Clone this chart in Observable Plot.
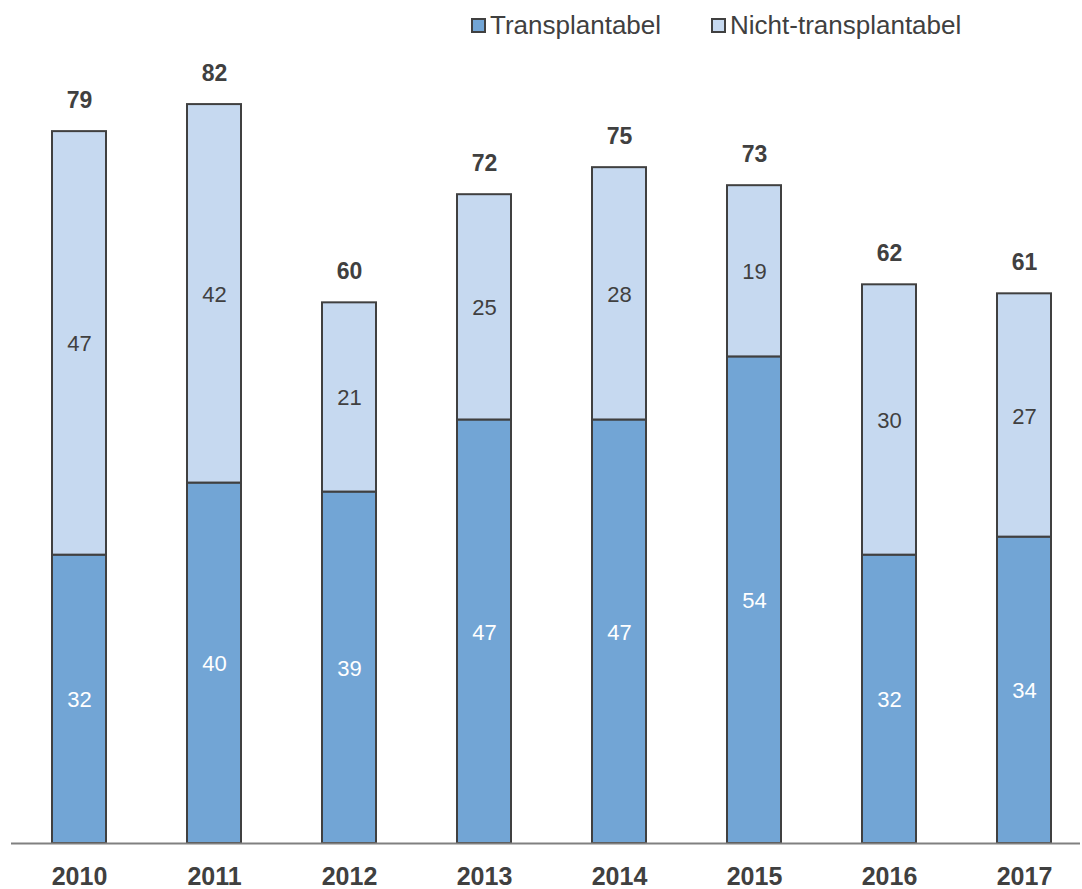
<!DOCTYPE html>
<html>
<head>
<meta charset="utf-8">
<script src="https://cdn.jsdelivr.net/npm/d3@7"></script>
<script src="https://cdn.jsdelivr.net/npm/@observablehq/plot@0.6"></script>
<style>
  body { margin: 0; background: #fff; font-family: "Liberation Sans", Arial, sans-serif; }
  #wrap { position: relative; width: 1082px; height: 889px; }
  #legend { position: absolute; top: 10px; left: 471px; display: flex; align-items: center; font-size: 26px; line-height: 30px; color: #404040; }
  .item { display: flex; align-items: center; }
  .sw { width: 11px; height: 11px; border: 2px solid #404040; margin-right: 4px; }
</style>
</head>
<body>
<div id="wrap">
  <div id="legend"></div>
  <div id="chart"></div>
</div>
<script>
const years = ["2010","2011","2012","2013","2014","2015","2016","2017"];
const transplantabel = [32,40,39,47,47,54,32,34];
const nichtTransplantabel = [47,42,21,25,28,19,30,27];
const seriesNames = ["Transplantabel","Nicht-transplantabel"];
const seriesColors = ["#72A5D5","#C6D9F0"];
const labelColors = ["#ffffff","#404040"];

const data = [];
years.forEach((y, i) => {
  data.push({year: y, series: seriesNames[0], value: transplantabel[i]});
  data.push({year: y, series: seriesNames[1], value: nichtTransplantabel[i]});
});
const totals = years.map((y, i) => ({year: y, total: transplantabel[i] + nichtTransplantabel[i]}));

// legend
const legend = document.getElementById("legend");
seriesNames.forEach((s, i) => {
  const it = document.createElement("div");
  it.className = "item";
  it.style.marginRight = i === 0 ? "50px" : "0";
  const sw = document.createElement("div");
  sw.className = "sw";
  sw.style.background = seriesColors[i];
  const t = document.createElement("span");
  t.textContent = s;
  it.appendChild(sw); it.appendChild(t);
  legend.appendChild(it);
});

const chart = Plot.plot({
  width: 1082,
  height: 889,
  marginTop: 32,
  marginBottom: 46,
  marginLeft: 11,
  marginRight: 2,
  style: {fontFamily: "'Liberation Sans', Arial, sans-serif", color: "#404040", background: "transparent"},
  x: {domain: years, range: [11.5, 1091.5], paddingInner: 0.6, paddingOuter: 0.3, label: null},
  y: {domain: [0, 90], axis: null},
  color: {domain: seriesNames, range: seriesColors},
  marks: [
    Plot.barY(data, Plot.stackY({x: "year", y: "value", fill: "series", stroke: "#404040", strokeWidth: 2, order: seriesNames})),
    Plot.text(data, Plot.stackY({x: "year", y: "value", order: seriesNames, text: d => d.value,
      fill: d => labelColors[seriesNames.indexOf(d.series)], fontSize: 22, dy: 1})),
    Plot.text(totals, {x: "year", y: "total", text: "total", dy: -31, fontSize: 23, fontWeight: "bold", fill: "#404040"}),
    Plot.ruleY([0], {stroke: "#808080", strokeWidth: 2}),
    Plot.axisX({tickSize: 0, tickPadding: 24, fontSize: 25, fontWeight: "bold", fill: "#404040", label: null})
  ]
});
document.getElementById("chart").appendChild(chart);
</script>
</body>
</html>
